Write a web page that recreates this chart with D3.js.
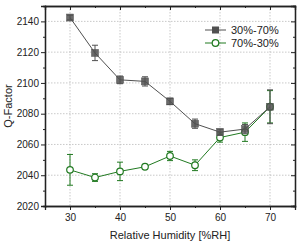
<!DOCTYPE html>
<html>
<head>
<meta charset="utf-8">
<script src="https://cdn.jsdelivr.net/npm/d3@7"></script>
<style>
body{margin:0;background:#fff;}
svg text{font-family:"Liberation Sans",Arial,sans-serif;fill:#222;}
</style>
</head>
<body>
<div id="graphHere"></div>
<script>
// relative humidity steps
var humidity = [30, 35, 40, 45, 50, 55, 60, 65, 70];
// 30%-70% (rising)
var upQ   = [2142.5, 2119.5, 2102, 2101, 2088, 2073.5, 2068, 2070, 2084.5];
var upErr = [1.5, 5, 2.5, 3, 2, 3, 2, 3, 11];
// 70%-30% (falling)
var downQ   = [2043.5, 2038.5, 2042.5, 2045.5, 2052.5, 2046.5, 2064.5, 2068, 2084.5];
var downErr = [10, 2.5, 6, 1, 3, 3.5, 3, 6, 10.5];
var xTicks = [30, 40, 50, 60, 70];
var yTicks = [2020, 2040, 2060, 2080, 2100, 2120, 2140];
var seriesNames = ["30%-70%", "70%-30%"];

var W = 301, H = 246;
var m = {l:45, r:6, t:6, b:40};

var svg = d3.select("#graphHere").append("svg")
  .attr("width", W).attr("height", H);

var x = d3.scaleLinear().domain([25, 75]).range([m.l, W - m.r]);
var y = d3.scaleLinear().domain([2020, 2150]).range([H - m.b, m.t]);

// grid
svg.append("g").selectAll("line").data(xTicks).enter().append("line")
  .attr("x1", d => x(d)).attr("x2", d => x(d))
  .attr("y1", m.t).attr("y2", H - m.b)
  .attr("stroke", "#bbb").attr("stroke-width", 0.8).attr("stroke-dasharray", "1.5,1.5");
svg.append("g").selectAll("line").data(yTicks.slice(1)).enter().append("line")
  .attr("x1", m.l).attr("x2", W - m.r)
  .attr("y1", d => y(d)).attr("y2", d => y(d))
  .attr("stroke", "#bbb").attr("stroke-width", 0.8).attr("stroke-dasharray", "1.5,1.5");

// axes
var minorY = d3.range(2030, 2150, 20);
var minorX = d3.range(35, 75, 10);

var gl = svg.append("g").attr("transform", "translate(" + m.l + ",0)");
gl.call(d3.axisLeft(y).tickValues(yTicks).tickSize(4).tickPadding(2).tickFormat(d3.format("d")));
gl.append("g").call(d3.axisLeft(y).tickValues(minorY).tickSize(2).tickFormat(""));

var gb = svg.append("g").attr("transform", "translate(0," + (H - m.b) + ")");
gb.call(d3.axisBottom(x).tickValues(xTicks).tickSize(4).tickPadding(4));
gb.append("g").call(d3.axisBottom(x).tickValues(minorX).tickSize(2).tickFormat(""));

var gt = svg.append("g").attr("transform", "translate(0," + m.t + ")");
gt.call(d3.axisBottom(x).tickValues(xTicks).tickSize(4).tickFormat(""));
gt.append("g").call(d3.axisBottom(x).tickValues(minorX).tickSize(2).tickFormat(""));

var gr = svg.append("g").attr("transform", "translate(" + (W - m.r) + ",0)");
gr.call(d3.axisLeft(y).tickValues(yTicks).tickSize(4).tickFormat(""));
gr.append("g").call(d3.axisLeft(y).tickValues(minorY).tickSize(2).tickFormat(""));

svg.selectAll(".domain").attr("stroke", "#222").attr("stroke-width", 1.3);
svg.selectAll(".tick line").attr("stroke", "#222");
svg.selectAll(".tick text").style("font-size", "10px");
gt.selectAll(".domain").attr("stroke-width", 1.3);

// labels
svg.append("text").attr("x", (m.l + W - m.r) / 2).attr("y", 239)
  .attr("text-anchor", "middle").style("font-size", "11px").text("Relative Humidity [%RH]");
svg.append("text").attr("transform", "translate(12," + ((m.t + H - m.b) / 2) + ") rotate(-90)")
  .attr("text-anchor", "middle").style("font-size", "11px").text("Q-Factor");

var line = d3.line().x((d, i) => x(humidity[i])).y(d => y(d));

function drawErr(vals, errs, col) {
  var g = svg.append("g").attr("stroke", col).attr("stroke-width", 1);
  g.selectAll(".v").data(vals).enter().append("line")
    .attr("x1", (d, i) => x(humidity[i])).attr("x2", (d, i) => x(humidity[i]))
    .attr("y1", (d, i) => y(d - errs[i])).attr("y2", (d, i) => y(d + errs[i]));
  g.selectAll(".t").data(vals).enter().append("line")
    .attr("x1", (d, i) => x(humidity[i]) - 3).attr("x2", (d, i) => x(humidity[i]) + 3)
    .attr("y1", (d, i) => y(d + errs[i])).attr("y2", (d, i) => y(d + errs[i]));
  g.selectAll(".b").data(vals).enter().append("line")
    .attr("x1", (d, i) => x(humidity[i]) - 3).attr("x2", (d, i) => x(humidity[i]) + 3)
    .attr("y1", (d, i) => y(d - errs[i])).attr("y2", (d, i) => y(d - errs[i]));
}

var grayC = "#505050", greenC = "#217a21";

// falling series
svg.append("path").datum(downQ).attr("d", line).attr("fill", "none")
  .attr("stroke", greenC).attr("stroke-width", 1);
drawErr(downQ, downErr, greenC);
svg.append("g").selectAll("circle").data(downQ).enter().append("circle")
  .attr("cx", (d, i) => x(humidity[i])).attr("cy", d => y(d)).attr("r", 3.3)
  .attr("fill", "#fff").attr("stroke", greenC).attr("stroke-width", 1.2);

// rising series
svg.append("path").datum(upQ).attr("d", line).attr("fill", "none")
  .attr("stroke", grayC).attr("stroke-width", 1);
drawErr(upQ, upErr, grayC);
svg.append("g").selectAll("rect").data(upQ).enter().append("rect")
  .attr("x", (d, i) => x(humidity[i]) - 3.5).attr("y", d => y(d) - 3.5)
  .attr("width", 7).attr("height", 7)
  .attr("fill", grayC).attr("fill-opacity", 0.85).attr("stroke", grayC).attr("stroke-width", 0.5);

// legend
var lg = svg.append("g").attr("transform", "translate(205,30)");
var legCols = [grayC, greenC];
seriesNames.forEach(function(n, i) {
  var r = lg.append("g").attr("transform", "translate(0," + (i * 13) + ")");
  r.append("line").attr("x1", 0).attr("x2", 21).attr("stroke", legCols[i]).attr("stroke-width", 1);
  if (i === 0) r.append("rect").attr("x", 7).attr("y", -3.5).attr("width", 7).attr("height", 7).attr("fill", grayC);
  else r.append("circle").attr("cx", 10.5).attr("r", 3.3).attr("fill", "#fff").attr("stroke", greenC).attr("stroke-width", 1.2);
  r.append("text").attr("x", 26).attr("y", 4).style("font-size", "11px").text(n);
});
</script>
</body>
</html>
